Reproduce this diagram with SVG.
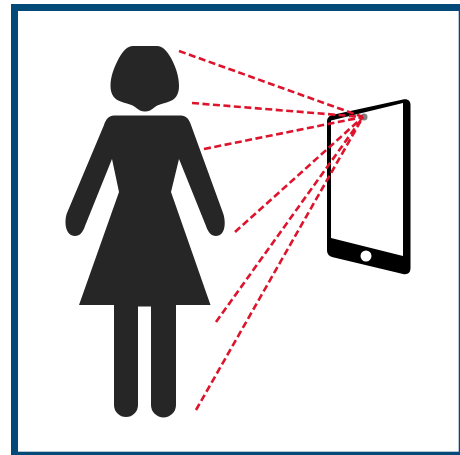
<svg xmlns="http://www.w3.org/2000/svg" width="460" height="455" viewBox="0 0 460 455">
<style>
.fig{fill:#262626}
.gaze{fill:none;stroke:#dd142c;stroke-width:2.6;stroke-dasharray:7 3.500}
</style>
<rect width="460" height="455" fill="#fff"/>
<rect id="frame" x="14.500" y="7.500" width="447.700" height="447.700" fill="#fff" stroke="#034a78" stroke-width="7"/>
<g id="person">
<path class="fig" d="M133 46H157C163 46 167 51 171 58C176 67 179 77 179 86C179 95 175 100 168 102C162 104 159 104 155 107C151 110 149 111.500 145 111.500C141 111.500 139 110 135 107C131 104 128 104 122 102C115 100 110.500 95 110.500 86C110.500 77 114 67 119 58C123 51 127 46 133 46Z"/>
<path class="fig" d="M114 115.500H181C186 115.500 189 119 191 125L223 213C226 221 226 236 216 236C211 236 208 232 206 226L179 159L171 192L210.500 305H176V405A12 12 0 0 1 151 405V306.500H138V405A12 12 0 0 1 114 405V305H79L119 192L112 159L85 226C83 232 80 236 75 236C65 236 64 221 67 213L104 125C106 119 109 115.500 114 115.500Z"/>
</g>
<g id="tablet">
<path fill="#000" fill-rule="evenodd" d="M332 115L403 99.500C408 98.500 410.500 101 410.500 105V268C410.500 272.500 408 275 403 274L334 257.500C329 256.500 327 254 327 250V122C327 118 329 116 332 115ZM331 120.500V238L403 256V103Z"/>
<circle cx="366" cy="256" r="5.500" fill="#fff"/>
<circle cx="364" cy="117" r="3.500" fill="#808080"/>
</g>
<g id="connectors">
<path class="gaze" d="M179 51L363 117"/>
<path class="gaze" d="M192 103L363 117"/>
<path class="gaze" d="M204 149L363 117"/>
<path class="gaze" d="M235 232L363 117"/>
<path class="gaze" d="M216 322L363 117"/>
<path class="gaze" d="M196 410L363 117"/>
</g>
</svg>
